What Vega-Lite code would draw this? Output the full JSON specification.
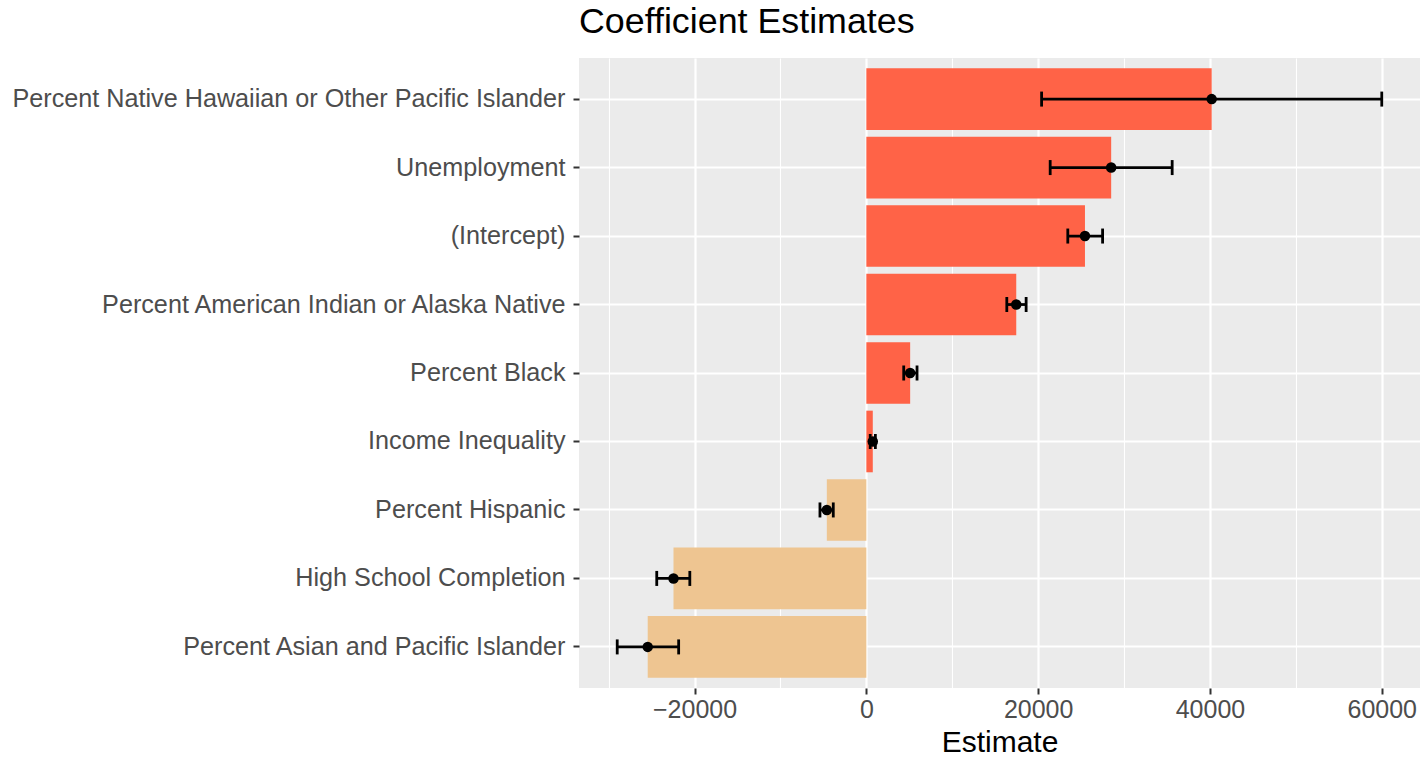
{
  "$schema": "https://vega.github.io/schema/vega-lite/v6.json",
  "width": 841,
  "height": 630,
  "autosize": "none",
  "padding": {"left": 579, "top": 58, "right": 2, "bottom": 71},
  "background": "white",
  "title": {
    "text": "Coefficient Estimates",
    "anchor": "start",
    "frame": "group",
    "font": "Liberation Sans",
    "fontSize": 35.8,
    "fontWeight": "normal",
    "color": "black",
    "offset": 17
  },
  "config": {
    "view": {"fill": "#EBEBEB", "stroke": null},
    "font": "Liberation Sans"
  },
  "data": {
    "values": [
      {"term": "Percent Native Hawaiian or Other Pacific Islander", "estimate": 40200, "lower": 20400, "upper": 60000},
      {"term": "Unemployment", "estimate": 28500, "lower": 21400, "upper": 35600},
      {"term": "(Intercept)", "estimate": 25450, "lower": 23450, "upper": 27500},
      {"term": "Percent American Indian or Alaska Native", "estimate": 17450, "lower": 16350, "upper": 18600},
      {"term": "Percent Black", "estimate": 5100, "lower": 4350, "upper": 5900},
      {"term": "Income Inequality", "estimate": 750, "lower": 450, "upper": 1050},
      {"term": "Percent Hispanic", "estimate": -4600, "lower": -5400, "upper": -3850},
      {"term": "High School Completion", "estimate": -22450, "lower": -24400, "upper": -20550},
      {"term": "Percent Asian and Pacific Islander", "estimate": -25450, "lower": -29000, "upper": -21850}
    ]
  },
  "encoding": {
    "y": {
      "field": "term",
      "type": "nominal",
      "sort": null,
      "scale": {"paddingInner": 0.1, "paddingOuter": 0.15},
      "axis": {
        "title": null,
        "domain": false,
        "labelFontSize": 25.2,
        "labelColor": "#4D4D4D",
        "labelLimit": 0,
        "labelPadding": 8,
        "tickSize": 6,
        "tickWidth": 2,
        "tickColor": "#333333",
        "grid": true,
        "gridColor": "white",
        "gridWidth": 2.2
      }
    }
  },
  "layer": [
    {
      "mark": {"type": "bar"},
      "encoding": {
        "x": {
          "field": "estimate",
          "type": "quantitative",
          "scale": {"domain": [-33450, 64450], "nice": false, "zero": false},
          "axis": {
            "title": "Estimate",
            "titleFontSize": 30,
            "titleFontWeight": "normal",
            "titleColor": "black",
            "titlePadding": 5,
            "values": [-30000, -20000, -10000, 0, 10000, 20000, 30000, 40000, 50000, 60000],
            "labelExpr": "datum.value % 20000 === 0 ? format(datum.value, 'd') : ''",
            "labelFontSize": 25,
            "labelColor": "#4D4D4D",
            "labelPadding": 3,
            "domain": false,
            "tickColor": "#333333",
            "tickWidth": 2,
            "tickSize": {"condition": {"test": "datum.value % 20000 !== 0", "value": 0}, "value": 6},
            "grid": true,
            "gridColor": "white",
            "gridWidth": {"condition": {"test": "datum.value % 20000 !== 0", "value": 1.1}, "value": 2.2}
          }
        },
        "color": {
          "condition": {"test": "datum.estimate > 0", "value": "#FF6347"},
          "value": "#EEC591"
        }
      }
    },
    {
      "mark": {"type": "rule", "color": "black", "strokeWidth": 2.8},
      "encoding": {
        "x": {"field": "lower", "type": "quantitative"},
        "x2": {"field": "upper"}
      }
    },
    {
      "mark": {"type": "tick", "color": "black", "thickness": 2.8, "size": 15, "opacity": 1},
      "encoding": {
        "x": {"field": "lower", "type": "quantitative"}
      }
    },
    {
      "mark": {"type": "tick", "color": "black", "thickness": 2.8, "size": 15, "opacity": 1},
      "encoding": {
        "x": {"field": "upper", "type": "quantitative"}
      }
    },
    {
      "mark": {"type": "point", "filled": true, "color": "black", "size": 110, "opacity": 1},
      "encoding": {
        "x": {"field": "estimate", "type": "quantitative"}
      }
    }
  ]
}
